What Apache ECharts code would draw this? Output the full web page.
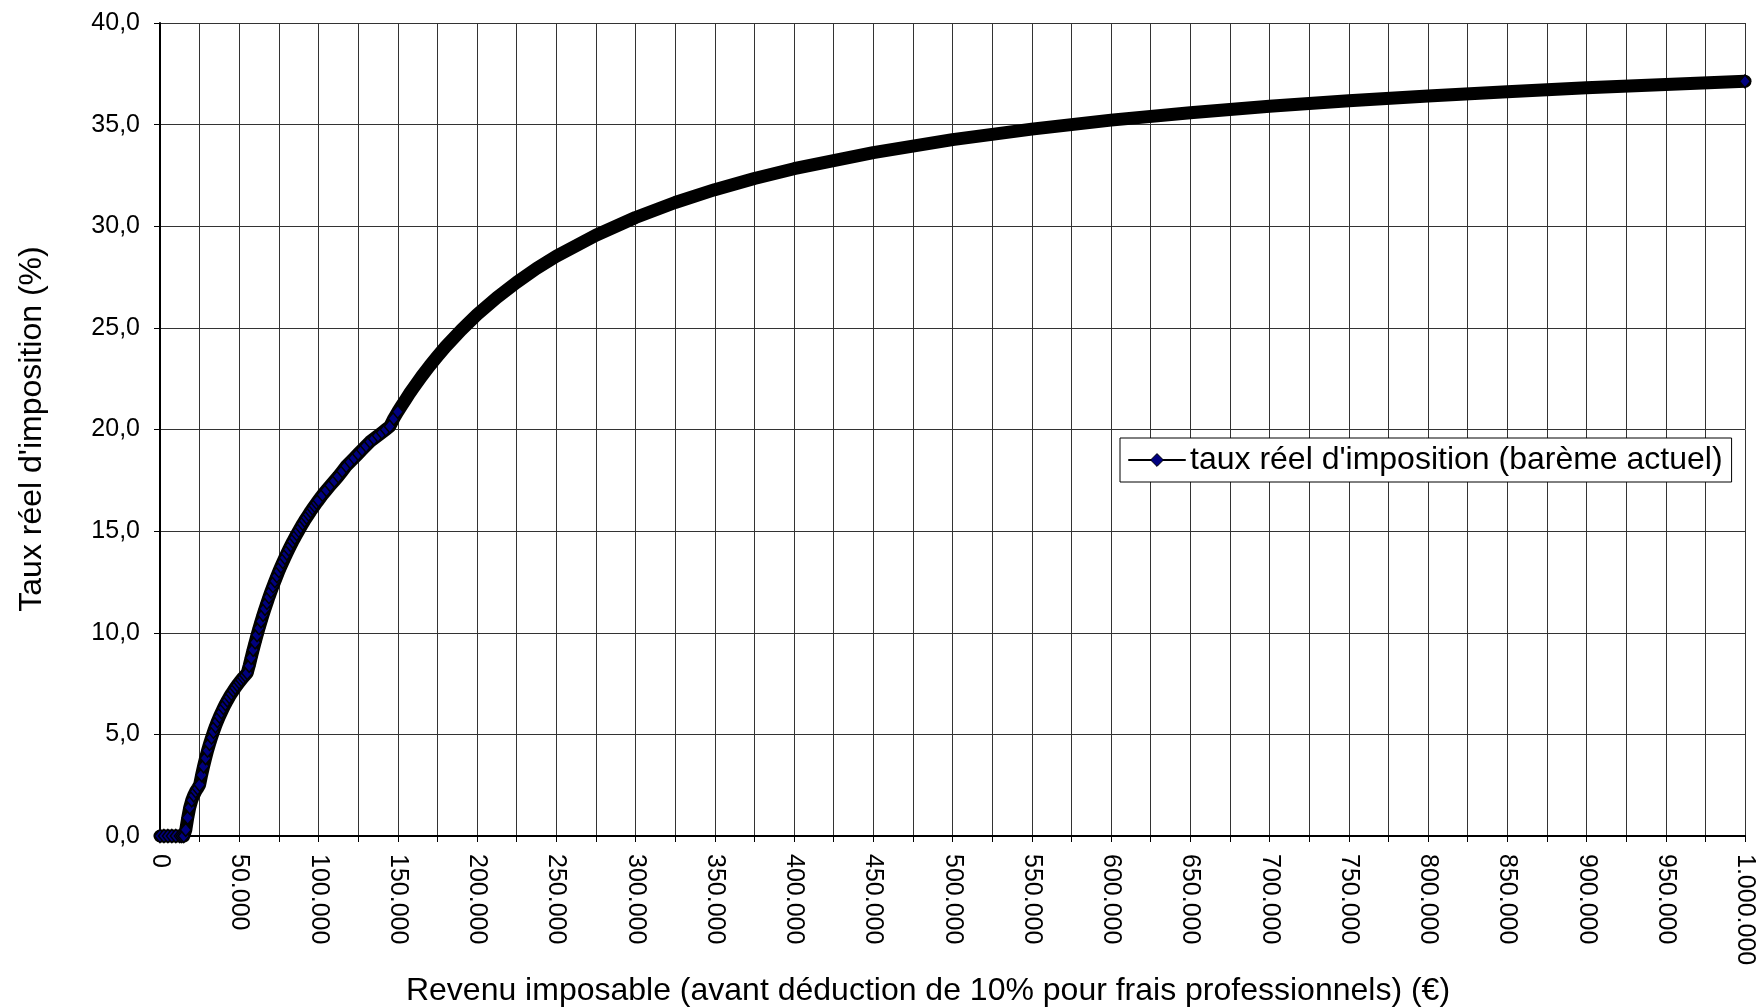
<!DOCTYPE html>
<html>
<head>
<meta charset="utf-8">
<style>
html,body{margin:0;padding:0;background:#fff;}
#chart{width:1760px;height:1008px;}
</style>
<script src="https://cdn.jsdelivr.net/npm/echarts@6/dist/echarts.min.js"></script>
</head>
<body>
<div id="chart"></div>
<script>
// Revenu imposable (€)
const incomes = [0, 2500, 5000, 7500, 10000, 12500, 13750,
  15000, 16250, 17500, 18750, 20000, 21250, 22500, 23750, 25000,
  26250, 27500, 28750, 30000, 31250, 32500, 33750, 35000, 36250, 37500, 38750, 40000,
  41250, 42500, 43750, 45000, 46250, 47500, 48750, 50000, 51250, 52500, 53750, 55000,
  56250, 57500, 58750, 60000, 61250, 62500, 63750, 65000, 66250, 67500, 68750, 70000,
  71250, 72500, 73750, 75000, 76250, 77500, 78750, 80000, 81250, 82500, 83750, 85000,
  86250, 87500, 88750, 90000, 91250, 92500, 93750, 95000, 96250, 97500, 98750, 100000,
  102500, 105000, 107500, 110000, 112500, 115000, 117500, 120000, 122500, 125000,
  127500, 130000, 132500, 135000, 137500, 140000, 142500, 145000, 147500,
  150000, 152500, 155000, 157500, 160000, 165000, 170000, 175000, 180000, 190000, 200000,
  212500, 225000, 237500, 250000, 275000, 300000, 325000, 350000, 375000, 400000,
  450000, 500000, 550000, 600000, 650000, 700000, 750000, 800000, 850000, 900000, 950000, 1000000];
// Taux réel d'imposition (%)
const rates = [0, 0, 0, 0, 0, 0, 0,
  0, 0.30, 0.90, 1.40, 1.75, 2.00, 2.20, 2.35, 2.52,
  3.00, 3.43, 3.83, 4.20, 4.53, 4.84, 5.13, 5.40, 5.65, 5.88, 6.09, 6.30,
  6.49, 6.67, 6.84, 7.00, 7.15, 7.29, 7.43, 7.56, 7.68, 7.80, 7.91, 8.02,
  8.37, 8.77, 9.16, 9.53, 9.89, 10.23, 10.56, 10.88, 11.18, 11.47, 11.76, 12.03,
  12.29, 12.54, 12.79, 13.03, 13.26, 13.48, 13.69, 13.90, 14.10, 14.30, 14.49, 14.67,
  14.85, 15.02, 15.19, 15.36, 15.52, 15.67, 15.82, 15.97, 16.11, 16.25, 16.39, 16.52,
  16.78, 17.02, 17.25, 17.47, 17.70, 17.95, 18.20, 18.40, 18.60, 18.80,
  19.00, 19.20, 19.40, 19.55, 19.70, 19.85, 20.00, 20.15, 20.54,
  20.87, 21.18, 21.48, 21.78, 22.06, 22.61, 23.12, 23.60, 24.06, 24.89, 25.65,
  26.49, 27.24, 27.92, 28.52, 29.56, 30.43, 31.17, 31.80, 32.35, 32.83,
  33.62, 34.26, 34.78, 35.22, 35.58, 35.90, 36.17, 36.41, 36.62, 36.81, 36.98, 37.13];

const seriesName = "taux réel d'imposition (barème actuel)";
const xTitle = "Revenu imposable (avant déduction de 10% pour frais professionnels) (€)";
const yTitle = "Taux réel d'imposition (%)";

const FONT = "'Liberation Sans', Arial, sans-serif";
const data = incomes.map((x, i) => [x, rates[i]]);
const lastIndex = data.length - 1;

function thousands(v) {
  return String(v).replace(/\B(?=(\d{3})+(?!\d))/g, '.');
}

const chart = echarts.init(document.getElementById('chart'));
chart.setOption({
  animation: false,
  backgroundColor: '#fff',
  grid: { left: 160, right: 15, top: 23, bottom: 172, containLabel: false, show: false },
  legend: {
    left: 1120, top: 438,
    padding: [6, 9, 6, 8],
    itemWidth: 56, itemHeight: 16,
    backgroundColor: '#fff',
    borderColor: '#000', borderWidth: 1, borderRadius: 0,
    textStyle: { fontSize: 32, fontFamily: FONT, color: '#000' },
    lineStyle: { width: 2, color: '#000' },
    itemStyle: { color: '#000080', borderColor: '#000', borderWidth: 1 },
    data: [seriesName]
  },
  xAxis: {
    type: 'value', min: 0, max: 1000000, interval: 25000,
    axisLine: { show: true, onZero: false, lineStyle: { color: '#000', width: 2 } },
    axisTick: { show: true, length: 6, inside: false, lineStyle: { color: '#000', width: 1 } },
    axisLabel: {
      rotate: -90, margin: 18, fontSize: 25, fontFamily: FONT, color: '#000',
      formatter: v => (v % 50000 === 0 ? thousands(v) : '')
    },
    splitLine: { show: true, lineStyle: { color: '#333', width: 1 } }
  },
  yAxis: {
    type: 'value', min: 0, max: 40, interval: 5,
    axisLine: { show: true, onZero: false, lineStyle: { color: '#000', width: 2 } },
    axisTick: { show: true, length: 6, inside: false, lineStyle: { color: '#000', width: 1 } },
    axisLabel: {
      margin: 20, fontSize: 25, fontFamily: FONT, color: '#000',
      formatter: v => v.toFixed(1).replace('.', ',')
    },
    splitLine: { show: true, lineStyle: { color: '#333', width: 1 } }
  },
  graphic: [
    {
      type: 'text', x: 32, y: 429, rotation: Math.PI / 2,
      style: { text: yTitle, font: "32px " + FONT, fill: '#000', align: 'center', verticalAlign: 'middle' }
    },
    {
      type: 'text', x: 928, y: 991,
      style: { text: xTitle, font: "32px " + FONT, fill: '#000', align: 'center', verticalAlign: 'middle' }
    }
  ],
  series: [{
    name: seriesName,
    type: 'line',
    data: data,
    clip: false,
    symbol: 'diamond',
    symbolSize: (val, params) => (val[0] <= 150000 || params.dataIndex === lastIndex) ? [11, 13] : 0,
    itemStyle: { color: '#000080', borderColor: '#000', borderWidth: 1.5 },
    lineStyle: { color: '#000', width: 13, join: 'round', cap: 'round' },
    emphasis: { disabled: true }
  }]
});
</script>
</body>
</html>
